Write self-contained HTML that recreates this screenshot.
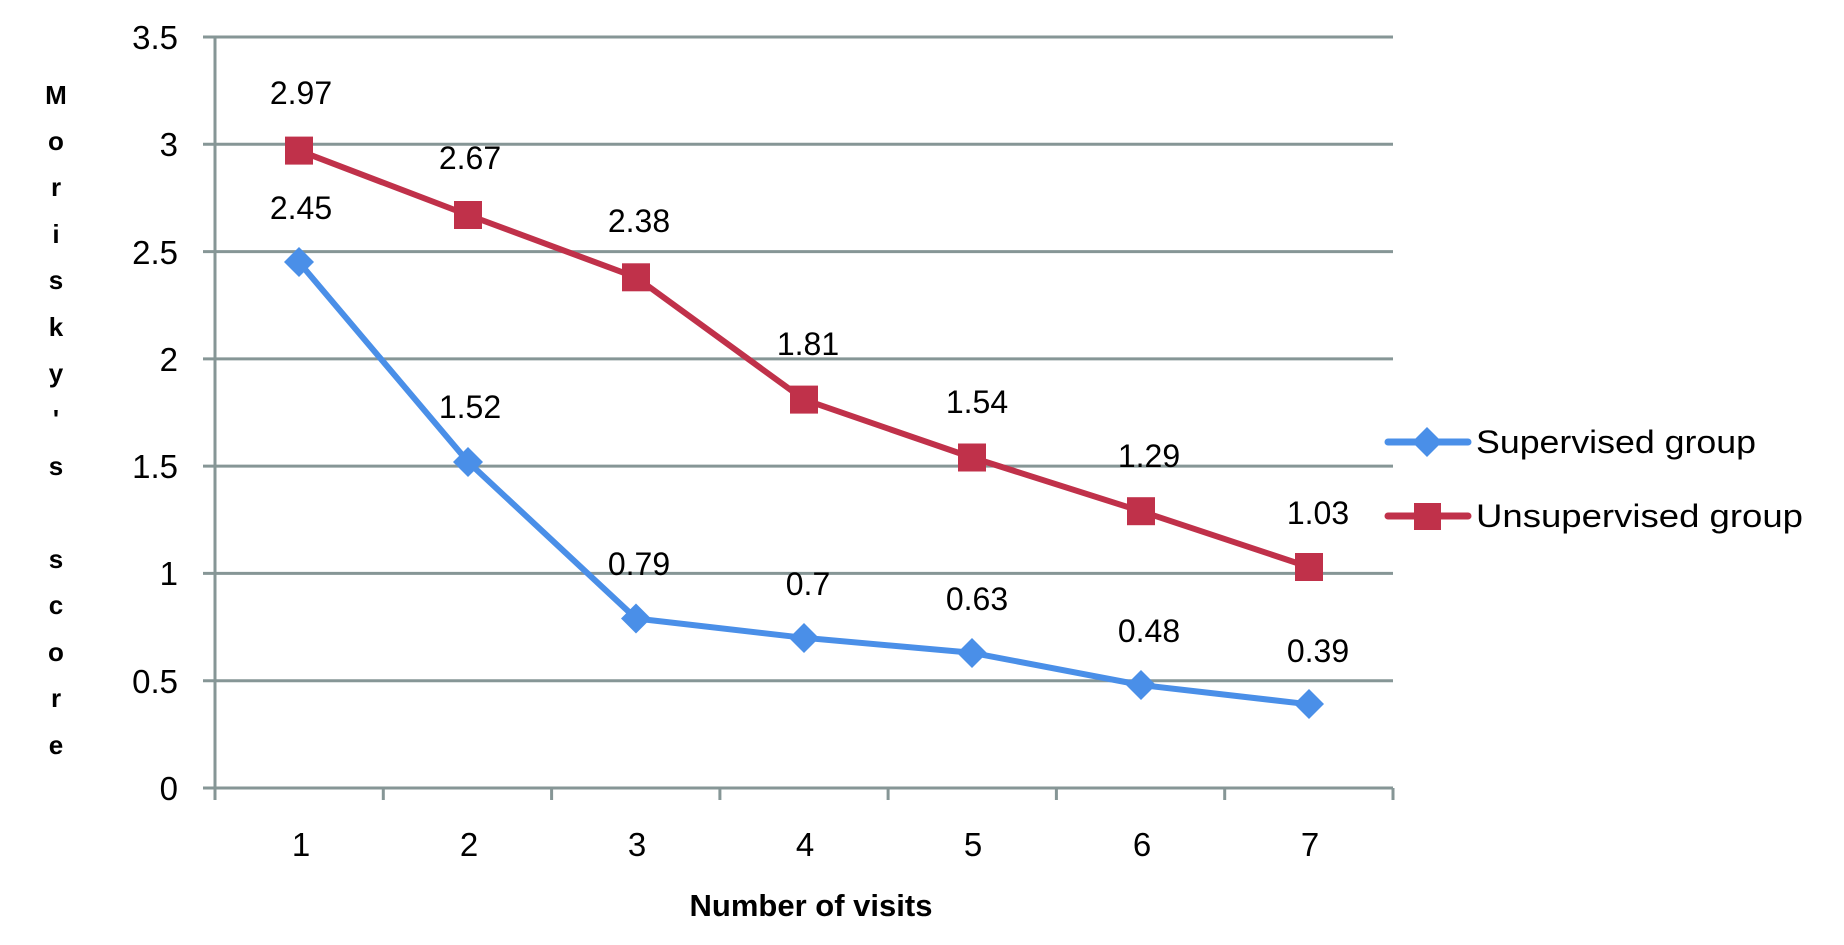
<!DOCTYPE html>
<html><head><meta charset="utf-8"><style>html,body{margin:0;padding:0;background:#fff}svg{display:block}</style></head>
<body>
<svg width="1844" height="945" viewBox="0 0 1844 945" xmlns="http://www.w3.org/2000/svg" font-family="Liberation Sans, sans-serif">
<g stroke="#869696" stroke-width="3">
<line x1="203" y1="37" x2="1393" y2="37"/>
<line x1="203" y1="144.3" x2="1393" y2="144.3"/>
<line x1="203" y1="251.6" x2="1393" y2="251.6"/>
<line x1="203" y1="358.9" x2="1393" y2="358.9"/>
<line x1="203" y1="466.1" x2="1393" y2="466.1"/>
<line x1="203" y1="573.4" x2="1393" y2="573.4"/>
<line x1="203" y1="680.7" x2="1393" y2="680.7"/>
<line x1="203" y1="788" x2="1393" y2="788"/>
<line x1="215" y1="37" x2="215" y2="800"/>
<line x1="383.3" y1="788" x2="383.3" y2="800"/>
<line x1="551.6" y1="788" x2="551.6" y2="800"/>
<line x1="719.9" y1="788" x2="719.9" y2="800"/>
<line x1="888.1" y1="788" x2="888.1" y2="800"/>
<line x1="1056.4" y1="788" x2="1056.4" y2="800"/>
<line x1="1224.7" y1="788" x2="1224.7" y2="800"/>
<line x1="1393" y1="788" x2="1393" y2="800"/>
</g>
<g font-size="33" text-anchor="end" fill="#000">
<text x="178" y="49">3.5</text><text x="178" y="156">3</text><text x="178" y="264">2.5</text><text x="178" y="371">2</text><text x="178" y="478">1.5</text><text x="178" y="585">1</text><text x="178" y="693">0.5</text><text x="178" y="800">0</text>
</g>
<g font-size="33" text-anchor="middle" fill="#000">
<text x="301" y="856">1</text><text x="469" y="856">2</text><text x="637" y="856">3</text><text x="805" y="856">4</text><text x="973" y="856">5</text><text x="1142" y="856">6</text><text x="1310" y="856">7</text>
</g>
<text x="811" y="916" font-size="31" font-weight="bold" text-anchor="middle">Number of visits</text>
<g font-size="26" font-weight="bold" text-anchor="middle">
<text x="56" y="104">M</text><text x="56" y="150">o</text><text x="56" y="196">r</text><text x="56" y="243">i</text><text x="56" y="289">s</text><text x="56" y="336">k</text><text x="56" y="382">y</text><text x="56" y="428">'</text><text x="56" y="475">s</text><text x="56" y="568">s</text><text x="56" y="614">c</text><text x="56" y="661">o</text><text x="56" y="707">r</text><text x="56" y="754">e</text>
</g>
<polyline fill="none" stroke="#c0314a" stroke-width="6" stroke-linejoin="round" points="299,150.6 468,215 636,277.3 804,399.6 972,457.5 1141,511.2 1309,567"/>
<g fill="#c0314a">
<rect x="285" y="136.6" width="28" height="28"/><rect x="454" y="201" width="28" height="28"/><rect x="622" y="263.3" width="28" height="28"/><rect x="790" y="385.6" width="28" height="28"/><rect x="958" y="443.5" width="28" height="28"/><rect x="1127" y="497.2" width="28" height="28"/><rect x="1295" y="553" width="28" height="28"/>
</g>
<polyline fill="none" stroke="#4a8fe8" stroke-width="6" stroke-linejoin="round" points="299,262.2 468,461.8 636,618.5 804,637.8 972,652.8 1141,685 1309,704.3"/>
<g fill="#4a8fe8">
<path d="M299,247 l15,15 l-15,15 l-15,-15z"/><path d="M468,447 l15,15 l-15,15 l-15,-15z"/><path d="M636,603.5 l15,15 l-15,15 l-15,-15z"/><path d="M804,623 l15,15 l-15,15 l-15,-15z"/><path d="M972,638 l15,15 l-15,15 l-15,-15z"/><path d="M1141,670 l15,15 l-15,15 l-15,-15z"/><path d="M1309,689 l15,15 l-15,15 l-15,-15z"/>
</g>
<g font-size="32" text-anchor="middle" fill="#000">
<text x="301" y="104">2.97</text><text x="470" y="169">2.67</text><text x="639" y="232">2.38</text><text x="808" y="355">1.81</text><text x="977" y="413">1.54</text><text x="1149" y="467">1.29</text><text x="1318" y="524">1.03</text>
<text x="301" y="219">2.45</text><text x="470" y="418">1.52</text><text x="639" y="575">0.79</text><text x="808" y="595">0.7</text><text x="977" y="610">0.63</text><text x="1149" y="642">0.48</text><text x="1318" y="662">0.39</text>
</g>
<line x1="1388" y1="442" x2="1468" y2="442" stroke="#4a8fe8" stroke-width="7" stroke-linecap="round"/>
<path d="M1427,427 l15,15 l-15,15 l-15,-15z" fill="#4a8fe8"/>
<line x1="1388" y1="516" x2="1468" y2="516" stroke="#c0314a" stroke-width="7" stroke-linecap="round"/>
<rect x="1414" y="503" width="27" height="27" fill="#c0314a"/>
<text x="1476" y="453" font-size="32" textLength="280" lengthAdjust="spacingAndGlyphs">Supervised group</text>
<text x="1476" y="527" font-size="32" textLength="327" lengthAdjust="spacingAndGlyphs">Unsupervised group</text>
</svg>
</body></html>
